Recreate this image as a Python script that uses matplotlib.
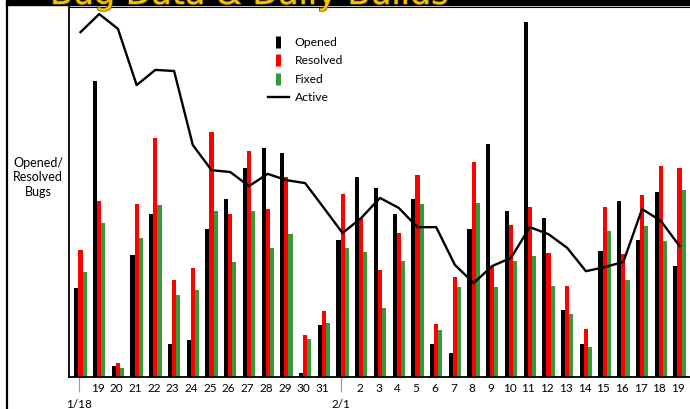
import matplotlib.pyplot as plt
import numpy as np
from matplotlib.lines import Line2D
from matplotlib.patches import Rectangle
import matplotlib.patheffects as pe

plt.rcParams['font.family'] = ['Lato', 'DejaVu Sans']

days = ['18', '19', '20', '21', '22', '23', '24', '25', '26', '27', '28', '29', '30', '31',
        '1', '2', '3', '4', '5', '6', '7', '8', '9', '10', '11', '12', '13', '14', '15', '16',
        '17', '18', '19']
month_labels = ['1/18', '2/1']
month_pos = [0, 14]

opened = [24, 80, 3, 33, 44, 9, 10, 40, 48, 56.5, 62, 60.5, 1, 14,
          37, 54, 51, 44, 48, 9, 6.5, 40, 63, 45, 96, 43, 18, 9, 34, 47.5, 37, 50, 30]
resolved = [34.3, 47.6, 3.8, 46.8, 64.6, 26.2, 29.5, 66.2, 44, 61, 45.4, 54, 11.4, 17.8,
            49.5, 43, 29, 39, 54.6, 14.3, 27, 58, 30, 41, 46, 33.5, 24.6, 13, 46, 33.2, 49.2, 57, 56.5]
fixed = [28.4, 41.6, 2.4, 37.6, 46.5, 22.2, 23.5, 45, 31, 45, 35, 38.6, 10.3, 14.6,
         35, 33.8, 18.6, 31.4, 46.8, 12.7, 24.3, 47, 24.3, 31.4, 32.7, 24.6, 17, 8.1, 39.5, 26.2, 40.8, 36.8, 50.5]
active = [93.2, 98.1, 94.1, 78.9, 83, 82.7, 62.7, 55.9, 55.4, 51.6, 54.9, 53.2, 52.4, 45.7,
          38.9, 43, 48.4, 45.7, 40.5, 40.5, 30.3, 25.4, 30, 32.2, 40.5, 38.6, 34.9, 28.6, 29.7, 31.1, 45.4, 42.2, 35.4]

x = np.arange(len(days))
c = x + 0.08  # group centres
width = 0.22

fig = plt.figure(figsize=(6.9, 4.09), dpi=100)
ax = fig.add_axes([69/690, 32/409, 1 - 69/690, 370/409])

ax.bar(c - width, opened, width, color='black')
ax.bar(c, resolved, width, color='#ff0000')
ax.bar(c + width, fixed, width, color='#36993a')
ax.plot(c, active, color='black', lw=1.7)

ax.set_xlim(-0.534, 32.64)
ax.set_ylim(0, 100)
ax.set_yticks([])

day_labels = [d if i not in month_pos else '' for i, d in enumerate(days)]
ax.xaxis.remove_overlapping_locs = False
ax.set_xticks(x)
ax.set_xticklabels(day_labels, fontsize=8.5)
ax.tick_params(axis='x', which='major', length=0, pad=4)
ax.set_xticks(month_pos, minor=True)
ax.set_xticklabels(month_labels, minor=True, fontsize=8.5)
ax.tick_params(axis='x', which='minor', length=11, width=0.8, color='#999999', pad=4.5)

ax.spines['right'].set_visible(False)
for s in ['left', 'bottom']:
    ax.spines[s].set_linewidth(1.3)
ax.spines['top'].set_linewidth(0.8)

fig.text(38/690, 1 - 177/409, 'Opened/\nResolved\nBugs', ha='center', va='center',
         fontsize=9, linespacing=1.25)

handles = [Line2D([], [], color='black', lw=0, marker='|', markersize=9, markeredgewidth=3.6),
           Line2D([], [], color='#ff0000', lw=0, marker='|', markersize=9, markeredgewidth=3.6),
           Line2D([], [], color='#36993a', lw=0, marker='|', markersize=9, markeredgewidth=3.6),
           Line2D([], [], color='black', lw=1.7)]
ax.legend(handles, ['Opened', 'Resolved', 'Fixed', 'Active'], loc='upper left',
          bbox_to_anchor=(268/690, 1 - 37/409), bbox_transform=fig.transFigure,
          frameon=False, fontsize=8.7, handlelength=1.7, handletextpad=0.5,
          labelspacing=0.62, borderpad=0, borderaxespad=0)

# top band, frame line and title
fig.patches.append(Rectangle((6/690, 1 - 5/409), 1, 5/409, transform=fig.transFigure,
                             color='black', zorder=0))
fig.add_artist(Line2D([6.5/690, 6.5/690], [0, 1 - 5/409], transform=fig.transFigure,
                      color='black', lw=1.6))
fig.text(50/690, 1 - 4/409, 'Bug Data & Daily Builds', ha='left', va='baseline',
         fontsize=24, color='#f4c300', family='DejaVu Sans',
         path_effects=[pe.withStroke(linewidth=1, foreground='#5a4600')])

fig.savefig('out.png', dpi=100)
